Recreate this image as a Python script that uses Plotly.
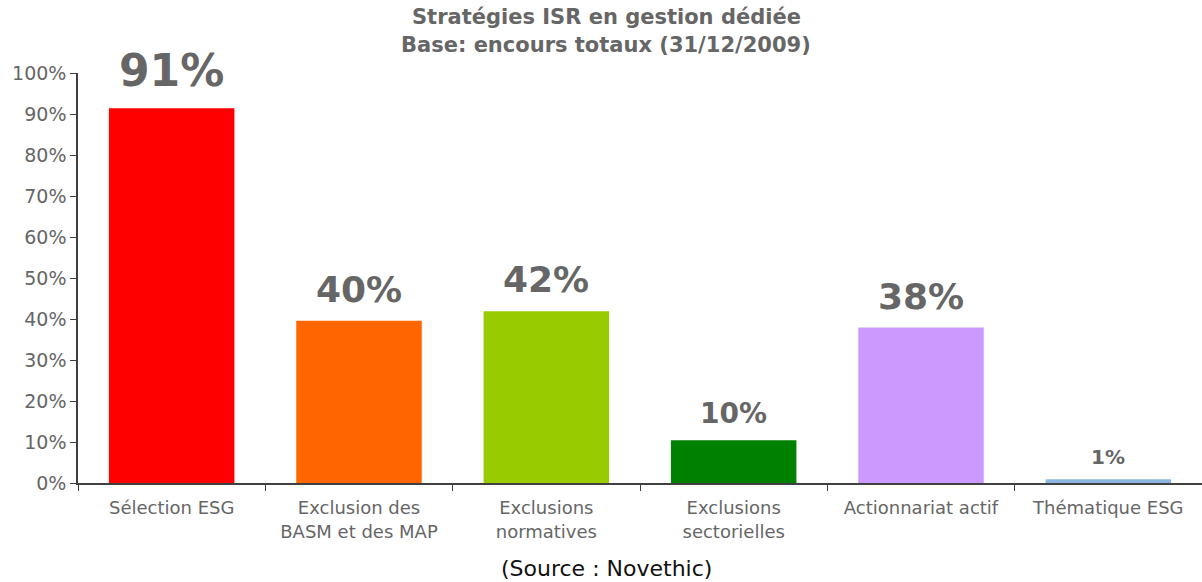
import plotly.graph_objects as go

# Categories and shares of total assets (%)
categories = [
    "Sélection ESG",
    "Exclusion des<br>BASM et des MAP",
    "Exclusions<br>normatives",
    "Exclusions<br>sectorielles",
    "Actionnariat actif",
    "Thématique ESG",
]
values = [91.4, 39.6, 41.9, 10.4, 37.9, 0.9]
bar_colors = ["#FF0000", "#FF6600", "#99CC00", "#008000", "#CC99FF", "#8DB4E2"]
label_sizes = [44, 36, 36, 28, 36, 20]
tick_values = [0, 10, 20, 30, 40, 50, 60, 70, 80, 90, 100]
tick_labels = [f"{v}%" for v in tick_values]

TEXT_GREY = "#666666"
FONT = "DejaVu Sans, Verdana, sans-serif"

fig = go.Figure(
    go.Bar(
        x=categories,
        y=values,
        marker=dict(color=bar_colors, line=dict(width=0)),
        hoverinfo="skip",
    )
)

# Value labels above each bar
for cat, val, size in zip(categories, values, label_sizes):
    fig.add_annotation(
        x=cat,
        y=val,
        text=f"<b>{val:.0f}%</b>",
        showarrow=False,
        yanchor="bottom",
        yshift=6 + size // 10,
        font=dict(family=FONT, size=size, color=TEXT_GREY),
    )

# Two-line chart title
for line, ypos in [("Stratégies ISR en gestion dédiée", 17), ("Base: encours totaux (31/12/2009)", 45)]:
    fig.add_annotation(
        text=f"<b>{line}</b>",
        xref="paper", yref="paper",
        x=0.47, y=1,
        yshift=73 - ypos,
        yanchor="middle",
        showarrow=False,
        font=dict(family=FONT, size=21, color=TEXT_GREY),
    )

fig.add_annotation(
    text="(Source : Novethic)",
    xref="paper", yref="paper",
    x=0.47, y=0,
    yshift=-85,
    showarrow=False,
    yanchor="middle",
    font=dict(family=FONT, size=22, color="#111111"),
)

fig.update_layout(
    width=1202,
    height=582,
    margin=dict(l=78, r=0, t=73, b=99),
    paper_bgcolor="white",
    plot_bgcolor="white",
    bargap=0.33,
    showlegend=False,
    font=dict(family=FONT, color=TEXT_GREY),
)

fig.update_xaxes(
    showline=True,
    linecolor="#404040",
    linewidth=1.5,
    ticks="outside",
    tickson="boundaries",
    ticklen=6,
    tickcolor="#404040",
    ticklabelstandoff=8,
    tickfont=dict(family=FONT, size=18, color=TEXT_GREY),
    showgrid=False,
)

fig.update_yaxes(
    range=[0, 100],
    tickvals=tick_values,
    ticktext=tick_labels,
    showline=True,
    linecolor="#404040",
    linewidth=1.5,
    ticks="outside",
    ticklen=6,
    tickcolor="#404040",
    tickfont=dict(family=FONT, size=19, color=TEXT_GREY),
    showgrid=False,
    zeroline=False,
)

fig.write_html("out.html")
